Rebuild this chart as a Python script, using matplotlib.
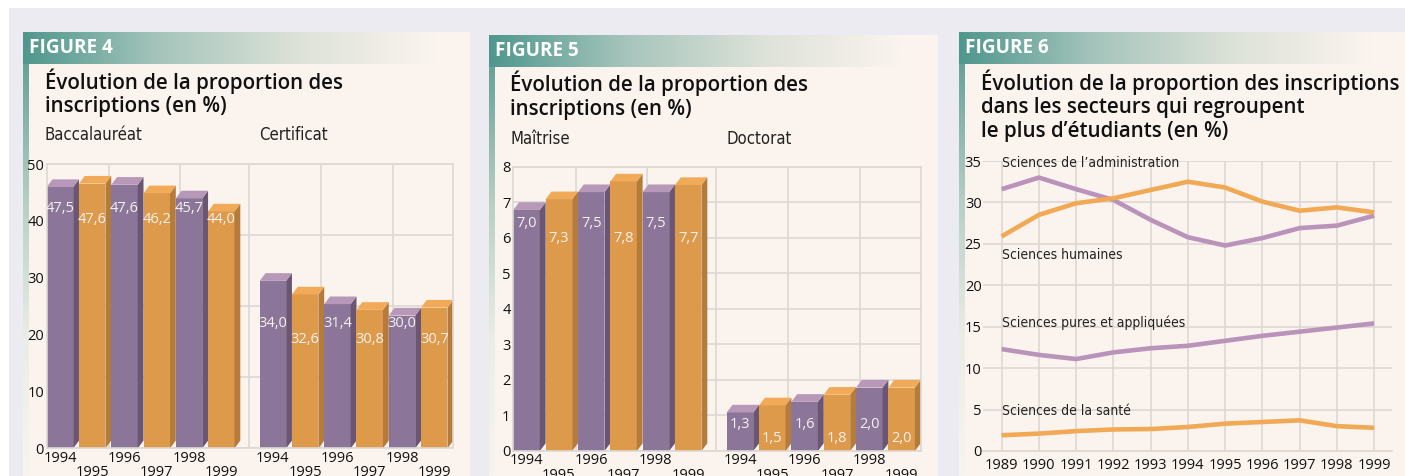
import numpy as np
import matplotlib.pyplot as plt
from matplotlib.colors import LinearSegmentedColormap
from matplotlib.patches import Rectangle

plt.rcParams['font.family'] = ['Open Sans', 'DejaVu Sans']
NARROW = dict(family='DejaVu Sans', stretch='condensed')

# --- données ---
bar_years = [1994, 1995, 1996, 1997, 1998, 1999]
bacc_heights = [47.3, 47.9, 47.7, 46.2, 45.3, 43.0]
bacc_labels = [47.5, 47.6, 47.6, 46.2, 45.7, 44.0]
cert_heights = [30.8, 28.4, 26.7, 25.7, 24.7, 26.1]
cert_labels = [34.0, 32.6, 31.4, 30.8, 30.0, 30.7]
maitrise = [7.0, 7.3, 7.5, 7.8, 7.5, 7.7]
doctorat = [1.3, 1.5, 1.6, 1.8, 2.0, 2.0]

line_years = list(range(1989, 2000))
sc_admin = [31.6, 33.0, 31.6, 30.3, 27.9, 25.8, 24.8, 25.7, 26.9, 27.2, 28.4]
sc_humaines = [25.9, 28.5, 29.9, 30.5, 31.5, 32.5, 31.8, 30.1, 29.0, 29.4, 28.8]
sc_pures = [12.3, 11.6, 11.1, 11.9, 12.4, 12.7, 13.3, 13.9, 14.4, 14.9, 15.4]
sc_sante = [1.9, 2.1, 2.4, 2.6, 2.65, 2.9, 3.3, 3.5, 3.7, 3.0, 2.8]

# --- couleurs ---
W, H = 1405, 476
CREAM = '#fbf4ee'
PAGE = '#ecebf1'
TEAL = '#4f978d'
GRID = '#dcd8d4'
PURPLE = ('#8b7599', '#6a5672', '#b898b8')
ORANGE = ('#de9a4b', '#b57b3b', '#f0aa58')
LINE_PURPLE = '#b993ba'
LINE_ORANGE = '#f2a955'

fig = plt.figure(figsize=(W / 100, H / 100), dpi=100)


def px_axes(x, y, w, h, z=0):
    return fig.add_axes([x / W, 1 - (y + h) / H, w / W, h / H], zorder=z)


def px_text(x, y, s, **kw):
    return fig.text(x / W, 1 - y / H, s, **kw)


# fond de page et panneaux
bg = px_axes(0, 0, W, H, -10)
bg.set_xlim(0, W)
bg.set_ylim(H, 0)
bg.axis('off')
bg.add_patch(Rectangle((9, 8), W - 9, H - 8, fc=PAGE, ec='none'))
panels = [(23, 32, 470), (489, 35, 938), (959, 32, W)]
for x0, y0, x1 in panels:
    bg.add_patch(Rectangle((x0 + 6, y0), x1 - x0 - 6, H - y0, fc=CREAM, ec='none'))

head_cmap = LinearSegmentedColormap.from_list('head', [TEAL, '#a6c5bc', '#dde2d8', CREAM])
strip_cmap = LinearSegmentedColormap.from_list('strip', ['#67a399', '#b7cfc5', '#eaeee6', '#f7f4ef'])
for x0, y0, x1 in panels:
    a = px_axes(x0, y0, 412, 32, -5)
    a.imshow(np.linspace(0, 1, 256)[None, :], cmap=head_cmap, aspect='auto')
    a.axis('off')
    s = px_axes(x0, y0 + 32, 6, H - y0 - 32, -5)
    s.imshow(np.linspace(0, 1, 256)[:, None], cmap=strip_cmap, aspect='auto')
    s.axis('off')

# titres
TITLE = dict(fontsize=14.8, fontweight='semibold', color='#111111', va='baseline')
SUB = dict(fontsize=12, color='#222222', va='baseline', **NARROW)
HEAD = dict(color='white', fontsize=13.6, fontweight='bold', va='center')
px_text(29, 48, 'FIGURE 4', **HEAD)
px_text(495, 51, 'FIGURE 5', **HEAD)
px_text(965, 48, 'FIGURE 6', **HEAD)
px_text(45, 89, 'Évolution de la proportion des', **TITLE)
px_text(45, 112, 'inscriptions (en %)', **TITLE)
px_text(510, 91, 'Évolution de la proportion des', **TITLE)
px_text(510, 115, 'inscriptions (en %)', **TITLE)
px_text(981, 90, 'Évolution de la proportion des inscriptions', **TITLE)
px_text(981, 113, 'dans les secteurs qui regroupent', **TITLE)
px_text(981, 137, 'le plus d’étudiants (en %)', **TITLE)
px_text(45, 140, 'Baccalauréat', **SUB)
px_text(259, 140, 'Certificat', **SUB)
px_text(510, 144, 'Maîtrise', **SUB)
px_text(726, 144, 'Doctorat', **SUB)

# --- graphiques à barres 3D ---
BAR_W, DEPTH_X, GROUP2 = 0.82, 0.18, 6.6


def fmt(v):
    return f'{v:.1f}'.replace('.', ',')


def bar_panel(ax, groups, ymax, yticks, hgrid, label_rows):
    dy = 0.027 * ymax
    vgrid = [1.94, 4.12, 6.27, 8.5, 10.72]
    ax.hlines(hgrid, 0, 12.6, color=GRID, lw=1.2, zorder=0.5)
    ax.vlines(vgrid, 0, ymax, color=GRID, lw=1.2, zorder=0.5)
    major, minor = [], []
    for g, (heights, labels) in enumerate(groups):
        x = np.arange(len(heights)) + g * GROUP2
        h = np.array(heights)
        for i in range(len(h)):
            front, side, top = PURPLE if i % 2 == 0 else ORANGE
            ax.bar(x[i], h[i] - dy, width=BAR_W, align='edge', color=front, zorder=2)
            ax.fill([x[i] + BAR_W, x[i] + BAR_W + DEPTH_X, x[i] + BAR_W + DEPTH_X, x[i] + BAR_W],
                    [0, dy, h[i], h[i] - dy], color=side, lw=0, zorder=2)
            ax.fill([x[i], x[i] + DEPTH_X, x[i] + BAR_W + DEPTH_X, x[i] + BAR_W],
                    [h[i] - dy, h[i], h[i], h[i] - dy], color=top, lw=0, zorder=2)
            row = label_rows[g][i % 2]
            ax.text(x[i] + BAR_W / 2, row, fmt(labels[i]), ha='center', va='center',
                    color='#f6f0ee', fontsize=10.5, zorder=3)
            (major if i % 2 == 0 else minor).append(x[i] + BAR_W / 2)
    ax.set_xlim(0, 12.6)
    ax.set_ylim(0, ymax)
    ax.set_yticks(yticks)
    ax.set_xticks(major)
    ax.set_xticklabels([str(y) for y in bar_years[::2]] * 2)
    ax.set_xticks(minor, minor=True)
    ax.set_xticklabels([str(y) for y in bar_years[1::2]] * 2, minor=True)
    ax.tick_params(axis='x', which='major', length=0, pad=1.8, labelsize=10.5, labelcolor='#111111')
    ax.tick_params(axis='x', which='minor', length=0, pad=12.2, labelsize=10.5, labelcolor='#111111')
    ax.tick_params(axis='y', length=0, pad=2, labelsize=10.5, labelcolor='#111111')
    ax.set_facecolor('none')
    for sp in ax.spines.values():
        sp.set_color(GRID)
        sp.set_linewidth(1.2)


ax4 = px_axes(46.7, 164, 406.6, 284.3)
bar_panel(ax4, [(bacc_heights, bacc_labels), (cert_heights, cert_labels)], 50,
          range(0, 51, 10), np.linspace(0, 50, 5), [(42.2, 40.2), (22.0, 19.2)])

ax5 = px_axes(513.3, 166.7, 407.4, 284.3)
bar_panel(ax5, [(maitrise, maitrise), (doctorat, doctorat)], 8,
          range(0, 9), range(0, 9), [(6.39, 5.98), (0.75, 0.34)])

# --- graphique à courbes ---
ax6 = px_axes(983, 161, 409, 290)
ax6.set_facecolor('none')
LW = 3.3
for series, col in [(sc_admin, LINE_PURPLE), (sc_humaines, LINE_ORANGE),
                    (sc_pures, LINE_PURPLE), (sc_sante, LINE_ORANGE)]:
    ax6.plot(line_years, series, color=col, lw=LW, solid_joinstyle='round',
             solid_capstyle='butt', zorder=3)
LAB = dict(fontsize=10, color='#222222', ha='left', va='center', zorder=4, **NARROW)
ax6.text(1989, 34.7, 'Sciences de l’administration', **LAB)
ax6.text(1989, 23.65, 'Sciences humaines', **LAB)
ax6.text(1989, 15.5, 'Sciences pures et appliquées', **LAB)
ax6.text(1989, 4.87, 'Sciences de la santé', **LAB)
ax6.set_xlim(1988.5, 1999.48)
ax6.set_ylim(0, 35)
ax6.set_xticks(line_years)
ax6.set_yticks(range(0, 36, 5))
ax6.grid(color=GRID, lw=1.2, zorder=0.5)
ax6.set_axisbelow(True)
ax6.tick_params(axis='x', length=0, pad=5, labelsize=10.5, labelcolor='#111111')
ax6.tick_params(axis='y', length=0, pad=1, labelsize=10.5, labelcolor='#111111')
for k in ('top', 'right', 'left'):
    ax6.spines[k].set_visible(False)
ax6.spines['bottom'].set_color(GRID)
ax6.spines['bottom'].set_linewidth(1.2)

fig.savefig('out.png', dpi=100)
